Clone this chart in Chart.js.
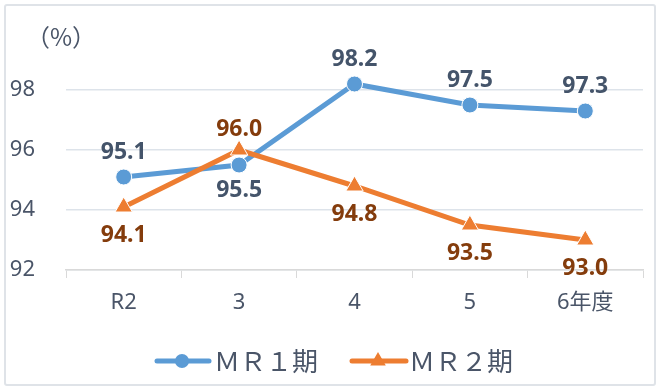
<!DOCTYPE html>
<html>
<head>
<meta charset="utf-8">
<script src="https://cdn.jsdelivr.net/npm/chart.js@4.4.1/dist/chart.umd.min.js"></script>
<style>
  body { margin: 0; background: #fff; }
  #box { position: absolute; left: 4px; top: 4px; width: 652px; height: 382px;
         box-sizing: border-box; border: 2px solid #dfe3e8; border-radius: 3px; }
  #chart { display: block; }
</style>
</head>
<body>
<div id="box"><canvas id="chart" width="648" height="378"></canvas></div>
<script>
var years = ["R2", "3", "4", "5", "6年度"];
var mr1 = [95.1, 95.5, 98.2, 97.5, 97.3];
var mr2 = [94.1, 96.0, 94.8, 93.5, 93.0];
var seriesNames = ["ＭＲ１期", "ＭＲ２期"];
var yTicks = [92, 94, 96, 98];

// where each value label sits relative to its point
var mr1Pos = ["above", "below", "above", "above", "above"];
var mr2Pos = ["below", "above", "below", "below", "below"];

var blue = "#5B9BD5";
var orange = "#ED7D31";
var textColor = "#4A5568";
var latin = "'Noto Sans', 'Noto Sans CJK JP', sans-serif";

var valueLabels = {
    id: "valueLabels",
    afterDatasetsDraw: function(chart) {
        var ctx = chart.ctx;
        ctx.save();
        ctx.font = "bold 23px " + latin;
        ctx.textAlign = "center";
        ctx.textBaseline = "middle";
        chart.data.datasets.forEach(function(ds, i) {
            var meta = chart.getDatasetMeta(i);
            meta.data.forEach(function(pt, j) {
                var below = ds.labelPos[j] == "below";
                var dy = below ? ds.belowOffset : ds.aboveOffset;
                ctx.fillStyle = ds.labelColor;
                ctx.fillText(ds.data[j].toFixed(1), pt.x, pt.y + dy);
            });
        });
        ctx.restore();
    }
};

var extras = {
    id: "extras",
    afterDraw: function(chart) {
        var ctx = chart.ctx;
        ctx.save();
        // unit label
        ctx.fillStyle = textColor;
        ctx.font = "24px 'Noto Sans CJK JP', sans-serif";
        ctx.textAlign = "left";
        ctx.textBaseline = "middle";
        ctx.fillText("（%）", 20, 31);

        // legend
        var ly = 355;
        ctx.lineCap = "round";
        ctx.lineWidth = 5;
        ctx.strokeStyle = blue;
        ctx.beginPath(); ctx.moveTo(151, ly); ctx.lineTo(203, ly); ctx.stroke();
        ctx.fillStyle = blue;
        ctx.beginPath(); ctx.arc(176, ly, 7, 0, Math.PI * 2); ctx.fill();

        ctx.strokeStyle = orange;
        ctx.beginPath(); ctx.moveTo(346, ly); ctx.lineTo(400, ly); ctx.stroke();
        ctx.fillStyle = orange;
        var r = 9;
        ctx.beginPath();
        ctx.moveTo(372, ly - r);
        ctx.lineTo(372 + r * 0.866, ly + r * 0.5);
        ctx.lineTo(372 - r * 0.866, ly + r * 0.5);
        ctx.closePath(); ctx.fill();

        ctx.fillStyle = textColor;
        ctx.font = "26px 'Noto Sans CJK JP', sans-serif";
        ctx.textBaseline = "middle";
        ctx.fillText(seriesNames[0], 208, ly);
        ctx.fillText(seriesNames[1], 403, ly);
        ctx.restore();
    }
};

var ctx = document.getElementById("chart").getContext("2d");
var chart = new Chart(ctx, {
    type: "line",
    data: {
        labels: years,
        datasets: [{
            label: seriesNames[0],
            data: mr1,
            borderColor: blue,
            backgroundColor: blue,
            borderWidth: 5,
            pointStyle: "circle",
            pointRadius: 8,
            pointBackgroundColor: blue,
            pointBorderColor: "#fff",
            pointBorderWidth: 1,
            order: 1,
            labelPos: mr1Pos,
            labelColor: "#44546A",
            aboveOffset: -25,
            belowOffset: 25
        }, {
            label: seriesNames[1],
            data: mr2,
            borderColor: orange,
            backgroundColor: orange,
            borderWidth: 5,
            pointStyle: "triangle",
            pointRadius: 10,
            pointBackgroundColor: orange,
            pointBorderColor: "#fff",
            pointBorderWidth: 1,
            order: 0,
            labelPos: mr2Pos,
            labelColor: "#843C0C",
            aboveOffset: -21,
            belowOffset: 28
        }]
    },
    options: {
        responsive: false,
        animation: false,
        layout: { padding: { left: 0, right: 9, top: 24, bottom: 64 } },
        plugins: {
            legend: { display: false },
            tooltip: { enabled: false }
        },
        scales: {
            x: {
                offset: true,
                grid: { drawOnChartArea: false, drawTicks: true, tickLength: 8, color: "#d9d9d9", offset: true },
                border: { color: "#d9d9d9", width: 1.5 },
                ticks: { color: textColor, font: { size: 22, family: latin }, padding: 12 },
                afterFit: function(s) { s.height = 50; }
            },
            y: {
                min: 92,
                max: 100,
                afterBuildTicks: function(s) {
                    s.ticks = yTicks.concat([100]).map(function(v) { return { value: v }; });
                },
                grid: {
                    drawTicks: false,
                    color: function(c) { return c.tick && c.tick.value == 100 ? "rgba(0,0,0,0)" : "#dde3ea"; },
                    lineWidth: 1.5
                },
                border: { display: false },
                ticks: {
                    color: textColor,
                    font: { size: 22, family: latin },
                    padding: 31,
                    callback: function(v) { return v == 100 ? "" : v; }
                },
                afterFit: function(s) { s.width = 60; s.paddingTop = 0; s.paddingBottom = 0; }
            }
        }
    },
    plugins: [valueLabels, extras]
});
</script>
</body>
</html>
